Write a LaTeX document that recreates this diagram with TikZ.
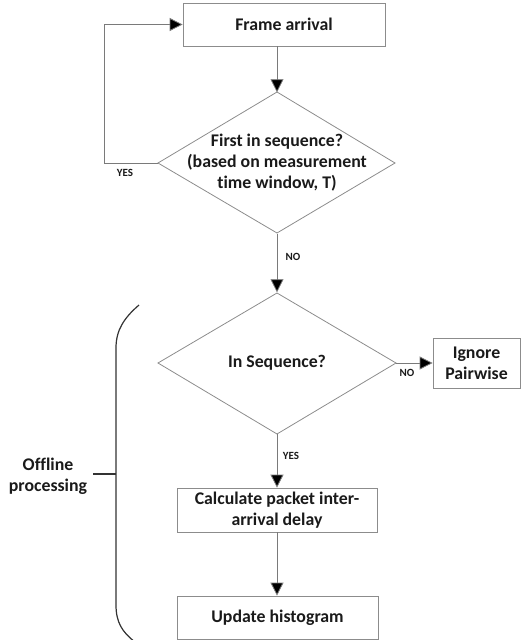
\documentclass[tikz,border=0pt]{standalone}
\usepackage{fontspec}
\setmainfont{Carlito}[Ligatures=CommonOff]
\usetikzlibrary{shapes.geometric,arrows.meta}
\definecolor{boxgray}{HTML}{8C8C8C}
\definecolor{linegray}{HTML}{7A7A7A}
\definecolor{txt}{HTML}{1A1A1A}
\begin{document}
\begin{tikzpicture}[x=1pt,y=-1pt,
  every node/.style={font=\fontsize{17.8}{21}\selectfont\bfseries, text=txt},
  procbox/.style={draw=boxgray, line width=0.8pt, rectangle, inner sep=0pt, align=center},
  decision/.style={draw=boxgray, line width=0.8pt},
  conn/.style={draw=linegray, line width=0.8pt, -{Triangle[length=13pt,width=13pt,fill=black]}},
  lbl/.style={font=\fontsize{11}{12}\selectfont\bfseries, inner sep=0pt}
]
\useasboundingbox (0,0) rectangle (522,640);

\node[procbox, minimum width=202pt, minimum height=43pt] (frame) at (284,24.5) {Frame arrival};
\path[decision] (158,163) -- (277,92) -- (395,163) -- (277,233) -- cycle;
\node[inner sep=0pt, minimum width=237pt, minimum height=141pt, align=center] (d1) at (277,163) {First in sequence?\\(based on measurement\\time window, T)};
\path[decision] (158,363) -- (277,293) -- (396,363) -- (277,434) -- cycle;
\node[inner sep=0pt, minimum width=238pt, minimum height=141pt] (d2) at (277,363) {In Sequence?};
\node[procbox, minimum width=87pt, minimum height=50pt] (ignore) at (476.5,363) {Ignore\\Pairwise};
\node[procbox, minimum width=200pt, minimum height=44pt] (calc) at (277,510) {Calculate packet inter-\\arrival delay};
\node[procbox, minimum width=201pt, minimum height=43pt] (update) at (277.5,617.5) {Update histogram};

% connectors
\draw[conn] (frame.south -| d1.north) -- (d1.north);
\draw[conn] (d1.west) -- ++(-54,0) |- (frame.west);
\draw[conn] (d1.south) -- (d2.north);
\draw[conn] (d2.east) -- (ignore.west);
\draw[conn] (d2.south) -- (calc.north);
\draw[conn] (calc.south) -- (update.north -| calc.south);

% labels
\node[lbl] (yes1) at (125,173) {YES};
\node[lbl] (no1) at (293,257) {NO};
\node[lbl] (no2) at (407,373) {NO};
\node[lbl] (yes2) at (291,456) {YES};

% bracket
\coordinate (btop) at (139,305);
\coordinate (bbot) at (135,642);
\coordinate (bmid) at (116,474);
\draw[draw=black!80, line width=1.2pt] (btop) .. controls (124,318) and (116,330) .. (116,348)
  -- (116,605) .. controls (116,622) and (122,632) .. (bbot);
\node[align=center, inner sep=0pt] (offline) at (48,476) {Offline\\processing};
\draw[draw=black!80, line width=1.2pt] (93,474) -- (bmid);
\end{tikzpicture}
\end{document}
